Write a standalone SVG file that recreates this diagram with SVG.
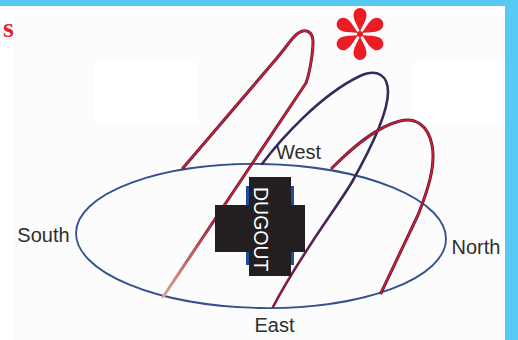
<svg xmlns="http://www.w3.org/2000/svg" width="518" height="340" viewBox="0 0 518 340">
  <style>
    .lbl { font-family: "Liberation Sans", Arial, sans-serif; font-size: 20px; fill: #2e2e2e; text-anchor: middle; }
    .under { fill: none; stroke: #5a1835; stroke-width: 3; stroke-linecap: round; stroke-linejoin: round; }
    .over { fill: none; stroke: #d11f33; stroke-width: 1.6; stroke-linecap: round; stroke-linejoin: round; }
    .horizon { fill: none; stroke: #34508e; stroke-width: 1.8; }
    .block { fill: #231f20; }
  </style>
  <defs>
    <path id="petal" d="M0,-2 C-2,-8 -6.5,-13 -6.5,-19.5 A6.5,6.5 0 0 1 6.5,-19.5 C6.5,-13 2,-8 0,-2 Z"/>
    <linearGradient id="fadeU" gradientUnits="userSpaceOnUse" x1="163" y1="297" x2="215" y2="220">
      <stop offset="0" stop-color="#d8b2a2"/>
      <stop offset="1" stop-color="#5a1835"/>
    </linearGradient>
    <linearGradient id="fadeO" gradientUnits="userSpaceOnUse" x1="163" y1="297" x2="215" y2="220">
      <stop offset="0" stop-color="#dba08c"/>
      <stop offset="1" stop-color="#d11f33"/>
    </linearGradient>
    <linearGradient id="mid" gradientUnits="userSpaceOnUse" x1="0" y1="200" x2="0" y2="305">
      <stop offset="0" stop-color="#3a2858"/>
      <stop offset="1" stop-color="#8e1a3c"/>
    </linearGradient>
  </defs>

  <!-- background -->
  <rect x="0" y="0" width="518" height="340" fill="#fcfcfc"/>
  <rect x="0" y="6" width="505" height="9" fill="#ffffff"/>
  <rect x="0" y="6" width="14" height="334" fill="#ffffff"/>
  <rect x="94" y="62" width="104" height="61" fill="#ffffff"/>
  <rect x="413" y="62" width="92" height="61" fill="#ffffff"/>
  <rect x="0" y="0" width="518" height="6" fill="#57c9f2"/>
  <rect x="505" y="0" width="13" height="340" fill="#57c9f2"/>

  <!-- heading fragment -->
  <text x="3" y="37" font-family="'Liberation Serif', 'Times New Roman', serif" font-weight="bold" font-size="28" fill="#e5222b">s</text>

  <!-- asterisk -->
  <g id="asterisk" fill="#ec1c24" transform="translate(360,34)">
    <use href="#petal"/>
    <use href="#petal" transform="rotate(60)"/>
    <use href="#petal" transform="rotate(120)"/>
    <use href="#petal" transform="rotate(180)"/>
    <use href="#petal" transform="rotate(240)"/>
    <use href="#petal" transform="rotate(300)"/>
    <circle r="3"/>
  </g>

  <!-- horizon ellipse -->
  <g id="horizon">
    <ellipse class="horizon" cx="261" cy="236" rx="185" ry="72" transform="rotate(1 261 236)"/>
  </g>

  <!-- sun paths -->
  <g id="sun-paths">
    <path class="under" style="stroke:url(#fadeU)" d="M163,297 L306,83 C310,72 313,52 313,42 C313,34 309,30 303,31 C297,32 291,40 285,48 L277,58 L183,168"/>
    <path class="over" style="stroke:url(#fadeO)" d="M163,297 L306,83 C310,72 313,52 313,42 C313,34 309,30 303,31 C297,32 291,40 285,48 L277,58 L183,168"/>
    <path class="under" style="stroke:url(#mid);stroke-width:2.6" d="M262,164 C280,140 320,95 360,76 C378,68 388,76 388,92 C388,112 370,150 352,182 C338,206 300,255 273,307"/>
    <path class="under" d="M332,168 C350,150 375,127 400,121 C415,117 428,125 432,145 C436,165 428,190 418,215 L381,293"/>
    <path class="over" d="M332,168 C350,150 375,127 400,121 C415,117 428,125 432,145 C436,165 428,190 418,215 L381,293"/>
  </g>

  <!-- dugout -->
  <g id="dugout">
    <rect x="246" y="186" width="48" height="79" fill="#1d4e9e"/>
    <rect class="block" x="249" y="177" width="42" height="99"/>
    <rect class="block" x="215" y="205" width="90" height="47"/>
    <text transform="translate(254,187) rotate(90)" font-family="'Liberation Sans', Arial, sans-serif" font-size="19.5" fill="#ffffff">DUGOUT</text>
  </g>

  <!-- direction labels -->
  <g id="label-west"><text class="lbl" x="298.5" y="159" font-size="19">West</text></g>
  <g id="label-south"><text class="lbl" x="43.5" y="241.5">South</text></g>
  <g id="label-north"><text class="lbl" x="476" y="254">North</text></g>
  <g id="label-east"><text class="lbl" x="274.5" y="332" font-size="19">East</text></g>
</svg>
